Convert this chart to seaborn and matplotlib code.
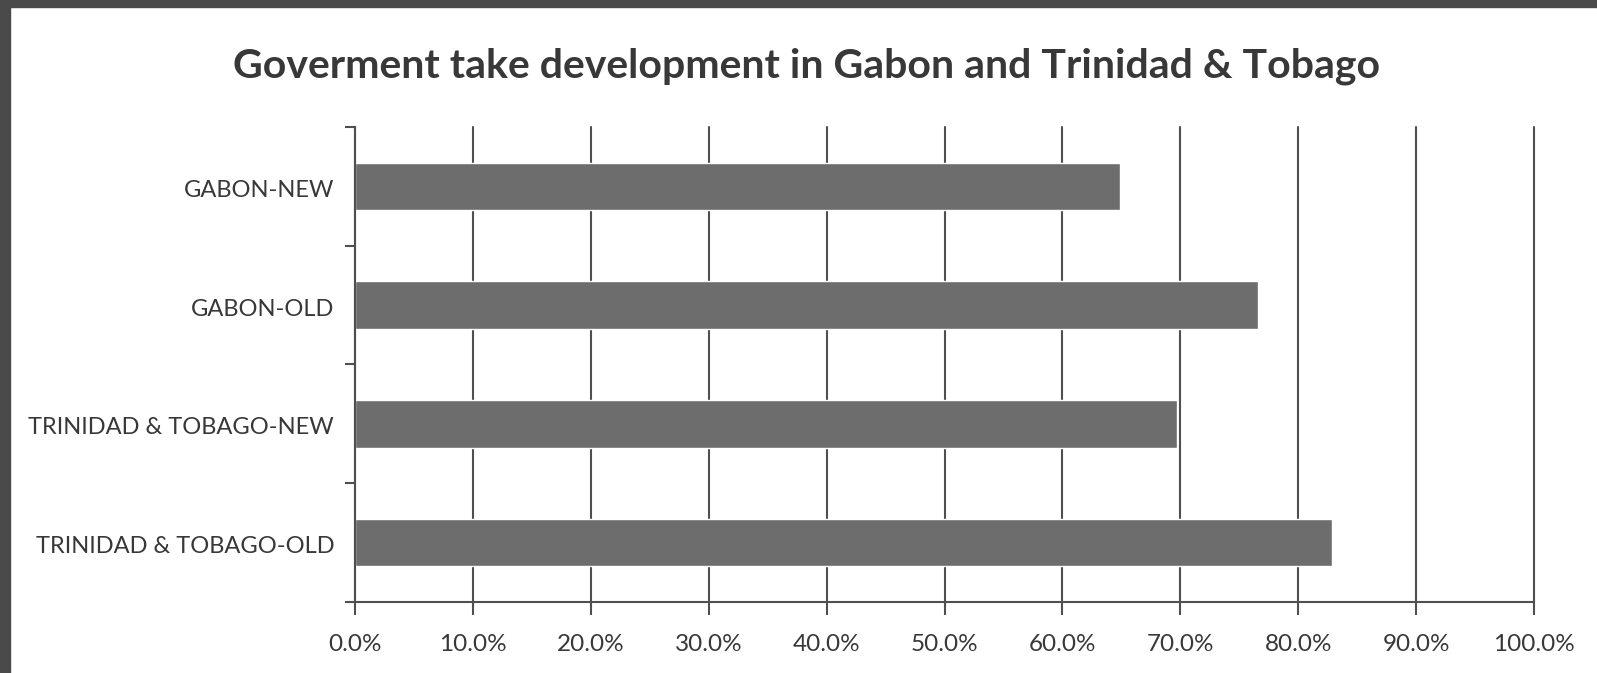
import matplotlib
matplotlib.use("Agg")
import matplotlib.pyplot as plt
import matplotlib.patches as mpatches
import matplotlib.transforms as mtransforms
from matplotlib.ticker import FixedLocator, PercentFormatter
import seaborn as sns
import pandas as pd

categories = ["GABON-NEW", "GABON-OLD", "TRINIDAD & TOBAGO-NEW", "TRINIDAD & TOBAGO-OLD"]
gov_take = [0.649, 0.766, 0.697, 0.829]
x_ticks = [0.0, 0.1, 0.2, 0.3, 0.4, 0.5, 0.6, 0.7, 0.8, 0.9, 1.0]
title = "Goverment take development in Gabon and Trinidad & Tobago"

sns.set_theme(style="white")
plt.rcParams["font.family"] = ["Lato", "DejaVu Sans"]

df = pd.DataFrame({"case": categories, "take": gov_take})

fig = plt.figure(figsize=(15.97, 6.73), dpi=100)
ax = fig.add_axes([0.2223, 0.1055, 0.9606 - 0.2223, 0.8113 - 0.1055])

line_col = "#4f4f4f"
text_col = "#383838"

ax.set_axisbelow(True)
ax.xaxis.grid(True, color=line_col, linewidth=1.5)
ax.yaxis.grid(False)

sns.barplot(data=df, x="take", y="case", order=categories, orient="h",
            color="#6d6d6d", saturation=1, width=0.4, ax=ax, zorder=2)

ax.set_xlim(0, 1.0)
ax.set_ylim(3.5, -0.5)
ax.xaxis.set_major_locator(FixedLocator(x_ticks))
ax.xaxis.set_major_formatter(PercentFormatter(xmax=1.0, decimals=1))

# category boundaries carry the tick marks, labels sit at bar centres
ax.yaxis.set_major_locator(FixedLocator([-0.5, 0.5, 1.5, 2.5, 3.5]))
ax.yaxis.set_minor_locator(FixedLocator(range(len(categories))))
ax.set_yticklabels([])
ax.set_yticklabels(categories, minor=True, va="center")
ax.tick_params(axis="y", which="major", left=True, length=7, width=1.5,
               color=line_col, direction="out")
ax.tick_params(axis="y", which="minor", left=False, length=0, pad=15,
               labelsize=17, labelcolor=text_col)
ax.tick_params(axis="x", bottom=True, length=9, width=1.5, color=line_col,
               direction="out", labelsize=17.5, labelcolor=text_col, pad=14)

# nudge category labels slightly down
shift = mtransforms.ScaledTranslation(0, -4 / 100, fig.dpi_scale_trans)
for lbl in ax.get_yticklabels(minor=True):
    lbl.set_transform(lbl.get_transform() + shift)

for gl in ax.xaxis.get_gridlines():
    gl.set_clip_on(False)

ax.set_xlabel("")
ax.set_ylabel("")
for side in ("top", "right"):
    ax.spines[side].set_visible(False)
for side in ("left", "bottom"):
    ax.spines[side].set_color(line_col)
    ax.spines[side].set_linewidth(1.5)

fig.text(0.505, 0.902, title, ha="center", va="center", fontsize=29.5,
         fontweight="bold", color=text_col)

# dark frame along the left and top edges
fig.patches.append(mpatches.Rectangle((0, 0), 10 / 1597, 1, transform=fig.transFigure,
                                      color="#4a4a4a", zorder=10))
fig.patches.append(mpatches.Rectangle((0, 1 - 7 / 673), 1, 7 / 673, transform=fig.transFigure,
                                      color="#4a4a4a", zorder=10))

fig.savefig("out.png", dpi=100, facecolor="white")
